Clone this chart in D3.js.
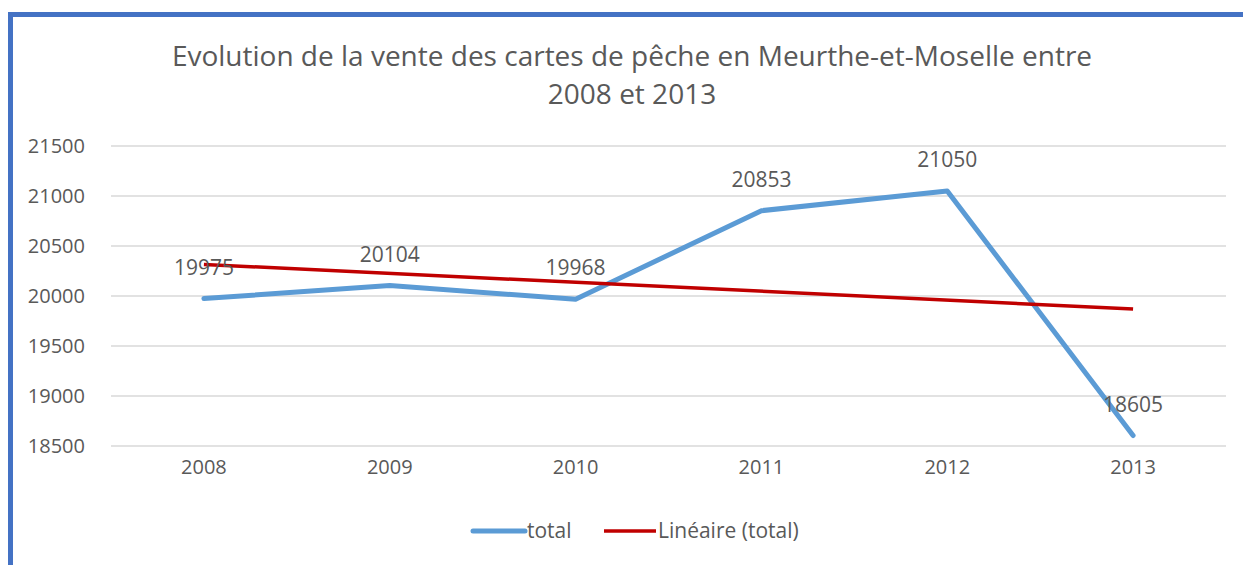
<!DOCTYPE html>
<html>
<head>
<meta charset="utf-8">
<script src="https://cdn.jsdelivr.net/npm/d3@7"></script>
<style>
  body { margin: 0; background: #fff; }
  svg text { font-family: "Open Sans", sans-serif; fill: #595959; }
</style>
</head>
<body>
<div id="chart-area"></div>
<script>
// data
var years = ["2008", "2009", "2010", "2011", "2012", "2013"];
var totals = [19975, 20104, 19968, 20853, 21050, 18605];
var yTicks = [18500, 19000, 19500, 20000, 20500, 21000, 21500];
var titleLines = ["Evolution de la vente des cartes de pêche en Meurthe-et-Moselle entre", "2008 et 2013"];
var legendNames = ["total", "Linéaire (total)"];

var W = 1243, H = 565;
var margin = { left: 111, right: 17, top: 146, bottom: 119 };
var width = W - margin.left - margin.right,
    height = H - margin.top - margin.bottom;

var svg = d3.select("#chart-area")
    .append("svg")
        .attr("width", W)
        .attr("height", H);

// frame (only left + top visible)
svg.append("path")
    .attr("d", "M10.5,565 L10.5,14.5 L1243,14.5")
    .attr("fill", "none")
    .attr("stroke", "#4472C4")
    .attr("stroke-width", 5);

var g = svg.append("g")
    .attr("transform", "translate(" + margin.left + "," + margin.top + ")");

var x = d3.scaleBand()
    .domain(years)
    .range([0, width]);

var y = d3.scaleLinear()
    .domain([18500, 21500])
    .range([300, 0]);

// gridlines
g.append("g")
    .selectAll("line")
    .data(yTicks)
    .enter().append("line")
        .attr("x1", 0)
        .attr("x2", width)
        .attr("y1", function(d){ return y(d); })
        .attr("y2", function(d){ return y(d); })
        .attr("stroke", "#D9D9D9")
        .attr("stroke-width", 1.5);

// y axis
var yAxisCall = d3.axisLeft(y)
    .tickValues(yTicks)
    .tickSize(0)
    .tickPadding(26)
    .tickFormat(function(d){ return d; });

var yAxisGroup = g.append("g").call(yAxisCall);
yAxisGroup.select(".domain").remove();
yAxisGroup.selectAll("text")
    .attr("font-family", "'Open Sans', sans-serif")
    .attr("font-size", "20px")
    .attr("fill", "#595959");

// x axis
var xAxisCall = d3.axisBottom(x).tickSize(0).tickPadding(14);
var xAxisGroup = g.append("g")
    .attr("transform", "translate(0," + 300 + ")")
    .call(xAxisCall);
xAxisGroup.select(".domain").remove();
xAxisGroup.selectAll("text")
    .attr("font-family", "'Open Sans', sans-serif")
    .attr("font-size", "20px")
    .attr("fill", "#595959");

// trend line (least squares on the series)
var n = totals.length;
var xm = d3.mean(totals, function(d, i){ return i + 1; });
var ym = d3.mean(totals);
var sxy = d3.sum(totals, function(d, i){ return (i + 1 - xm) * (d - ym); });
var sxx = d3.sum(totals, function(d, i){ return (i + 1 - xm) * (i + 1 - xm); });
var slope = sxy / sxx;
var intercept = ym - slope * xm;
var trend = years.map(function(yr, i){ return intercept + slope * (i + 1); });

var line = d3.line()
    .x(function(d, i){ return x(years[i]) + x.bandwidth() / 2; })
    .y(function(d){ return y(d); });

g.append("path")
    .datum(totals)
    .attr("d", line)
    .attr("fill", "none")
    .attr("stroke", "#5B9BD5")
    .attr("stroke-width", 5)
    .attr("stroke-linecap", "round")
    .attr("stroke-linejoin", "round");

g.append("path")
    .datum([trend[0], trend[n - 1]])
    .attr("d", d3.line()
        .x(function(d, i){ return x(years[i * (n - 1)]) + x.bandwidth() / 2; })
        .y(function(d){ return y(d); }))
    .attr("fill", "none")
    .attr("stroke", "#C00000")
    .attr("stroke-width", 3.5);

// data labels
g.selectAll(".lbl")
    .data(totals)
    .enter().append("text")
        .attr("class", "lbl")
        .attr("x", function(d, i){ return x(years[i]) + x.bandwidth() / 2; })
        .attr("y", function(d){ return y(d) - 24; })
        .attr("text-anchor", "middle")
        .attr("font-size", "21px")
        .text(function(d){ return d; });

// title
svg.selectAll(".title")
    .data(titleLines)
    .enter().append("text")
        .attr("class", "title")
        .attr("x", 632)
        .attr("y", function(d, i){ return 66 + i * 38; })
        .attr("text-anchor", "middle")
        .attr("font-size", "28px")
        .text(function(d){ return d; });

// legend
var legendX = [471, 602];
var legendColors = ["#5B9BD5", "#C00000"];
var legendW = [5, 3.5];
var leg = svg.selectAll(".leg")
    .data(legendNames)
    .enter().append("g")
        .attr("class", "leg")
        .attr("transform", function(d, i){ return "translate(" + legendX[i] + ",531)"; });
leg.append("line")
    .attr("x1", 2).attr("x2", 54)
    .attr("stroke", function(d, i){ return legendColors[i]; })
    .attr("stroke-width", function(d, i){ return legendW[i]; })
    .attr("stroke-linecap", function(d, i){ return i === 0 ? "round" : "butt"; });
leg.append("text")
    .attr("x", 56)
    .attr("y", 7)
    .attr("font-size", "21px")
    .text(function(d){ return d; });
</script>
</body>
</html>
